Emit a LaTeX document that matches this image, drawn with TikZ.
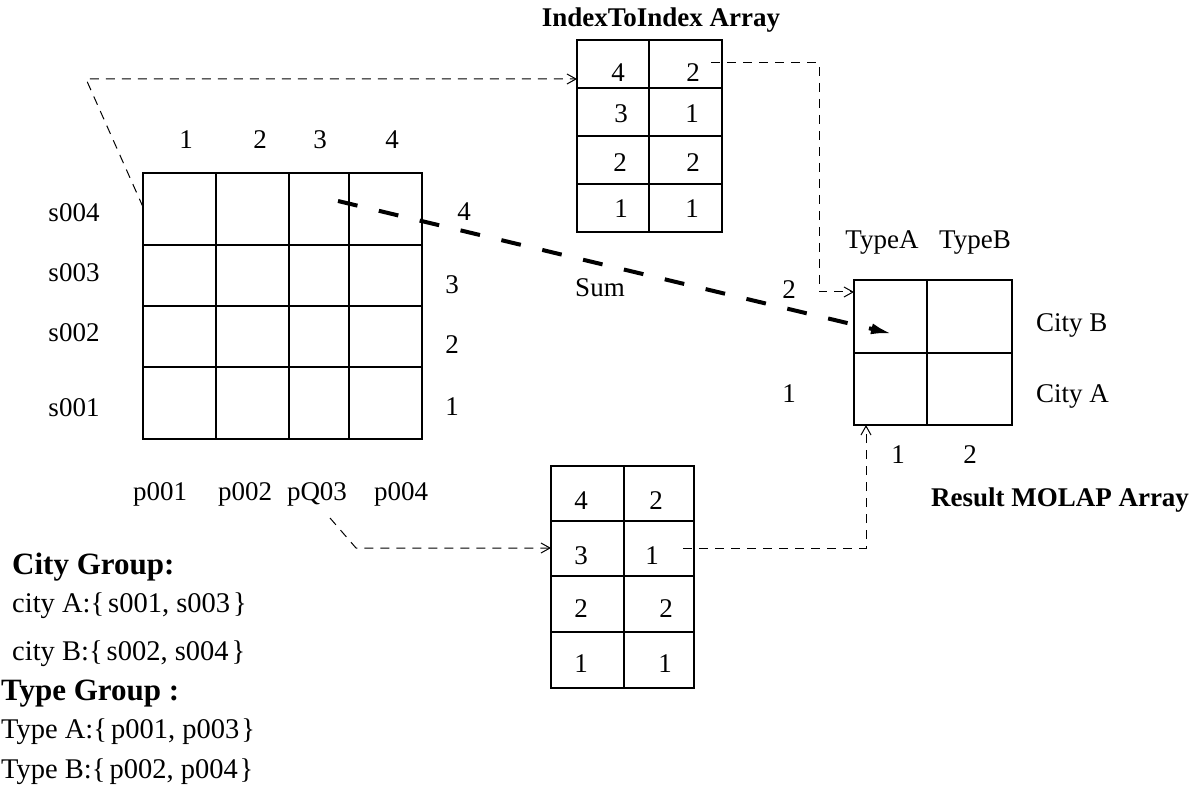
\documentclass[tikz,border=0pt]{standalone}
\usepackage{fontspec}
\setmainfont{Liberation Serif}
\usetikzlibrary{arrows.meta}
\begin{document}
\begin{tikzpicture}[x=1pt,y=-1pt,
  lbl/.style={inner sep=0pt, anchor=base, font=\fontsize{27}{30}\selectfont},
  blbl/.style={inner sep=0pt, anchor=base, font=\fontsize{27}{30}\selectfont\bfseries},
  leg/.style={inner sep=0pt, anchor=base west, font=\fontsize{28.5}{32}\selectfont},
  bleg/.style={inner sep=0pt, anchor=base west, font=\fontsize{31}{34}\selectfont\bfseries},
  arr/.style={draw, inner sep=0pt, outer sep=0pt, anchor=north west},
  thinline/.style={line width=1.3pt},
  thickborder/.style={line width=2.6pt},
  link/.style={line width=1pt, dash pattern=on 9pt off 7pt, -{Straight Barb[length=9pt,width=10pt]}},
  heavy/.style={line width=4pt, dash pattern=on 20pt off 22pt, -{Latex[length=22pt,width=11pt]}}]
\useasboundingbox (0,0) rectangle (1199,799);

% ---------------- main 4x4 array ----------------
\node[arr, thickborder, minimum width=279pt, minimum height=266pt] (grid) at (143,173) {};
\foreach \x in {216,289,349} \draw[thinline] (\x,173) -- (\x,439);
\foreach \y in {245,306,367} \draw[thinline] (143,\y) -- (422,\y);

\node[lbl] (c1) at (186,149) {1};
\node[lbl] (c2) at (260,149) {2};
\node[lbl] (c3) at (320,149) {3};
\node[lbl] (c4) at (392,149) {4};

\node[lbl] (s4) at (74,222) {s004};
\node[lbl] (s3) at (74,282) {s003};
\node[lbl] (s2) at (74,342) {s002};
\node[lbl] (s1) at (74,416) {s001};

\node[lbl] (r4) at (464,221) {4};
\node[lbl] (r3) at (452,294) {3};
\node[lbl] (r2) at (452,354) {2};
\node[lbl] (r1) at (452,415) {1};

\node[lbl] (p1) at (160,500) {p001};
\node[lbl] (p2) at (245,500) {p002};
\node[lbl] (p3) at (317,500) {pQ03};
\node[lbl] (p4) at (401,500) {p004};

% ---------------- IndexToIndex array (top) ----------------
\node[blbl] (title) at (661,27) {IndexToIndex Array};
\node[arr, thinline, minimum width=145pt, minimum height=192pt] (tarr) at (577,40) {};
\draw[thinline] (649,40) -- (649,232);
\foreach \y in {88,136,184} \draw[thinline] (577,\y) -- (722,\y);
\node[lbl] (ta1) at (618,82) {4};  \node[lbl] (tb1) at (693,82) {2};
\node[lbl] (ta2) at (621,123) {3}; \node[lbl] (tb2) at (692,123) {1};
\node[lbl] (ta3) at (620,172) {2}; \node[lbl] (tb3) at (693,172) {2};
\node[lbl] (ta4) at (621,218) {1}; \node[lbl] (tb4) at (692,218) {1};

% ---------------- second index array (bottom) ----------------
\node[arr, thinline, minimum width=143pt, minimum height=222pt] (barr) at (551,466) {};
\draw[thinline] (624,466) -- (624,688);
\foreach \y in {521,576,632} \draw[thinline] (551,\y) -- (694,\y);
\node[lbl] (ba1) at (581,509) {4}; \node[lbl] (bb1) at (656,509) {2};
\node[lbl] (ba2) at (581,564) {3}; \node[lbl] (bb2) at (652,564) {1};
\node[lbl] (ba3) at (581,617) {2}; \node[lbl] (bb3) at (666,617) {2};
\node[lbl] (ba4) at (581,672) {1}; \node[lbl] (bb4) at (665,672) {1};

% ---------------- result MOLAP array ----------------
\node[arr, thickborder, minimum width=158pt, minimum height=145pt] (res) at (854,280) {};
\draw[thinline] (927,280) -- (927,425);
\draw[thinline] (854,353) -- (1012,353);
\node[lbl] (ta) at (882,249) {TypeA};
\node[lbl] (tb) at (975,249) {TypeB};
\node[lbl, anchor=base west] (cb) at (1036,332) {City B};
\node[lbl, anchor=base west] (ca) at (1036,402) {City A};
\node[lbl] (x1) at (898,463) {1};
\node[lbl] (x2) at (970,463) {2};
\node[blbl] (rtitle) at (1060,506) {Result MOLAP Array};
\node[lbl] (y2) at (789,299) {2};
\node[lbl] (y1) at (789,402) {1};
\node[lbl] (sum) at (600,297) {Sum};

% ---------------- legend ----------------
\node[bleg] (cg) at (12,574) {City Group:};
\node[leg] (cga) at (12,612) {city A:\{\hspace{4pt}s001, s003\hspace{3pt}\}};
\node[leg] (cgb) at (12,660) {city B:\{\hspace{4pt}s002, s004\hspace{3pt}\}};
\node[bleg] (tg) at (1,700) {Type Group :};
\node[leg] (tga) at (1,738) {Type A:\{\hspace{4pt}p001, p003\hspace{2pt}\}};
\node[leg] (tgb) at (1,778) {Type B:\{\hspace{4pt}p002, p004\hspace{2pt}\}};

% ---------------- connectors ----------------
\coordinate (g4) at (143,207);
\coordinate (k0) at (86,79);
\draw[link] (g4) -- (k0) -- (k0 -| tarr.west);

\coordinate (t2s) at (711,63);
\coordinate (k1) at (819,63);
\coordinate (k2) at (819,292);
\draw[link] (t2s) -- (k1) -- (k2) -- (k2 -| res.west);

\coordinate (q0) at (330,518);
\coordinate (q1) at (356,548);
\draw[link] (q0) -- (q1) -- (q1 -| barr.west);

\coordinate (b1s) at (683,548);
\coordinate (k3) at (866,548);
\draw[link] (b1s) -- (k3) -- (k3 |- res.south);

\coordinate (hs) at (338,201);
\coordinate (he) at (893,334);
\draw[heavy] (hs) -- (he);
\end{tikzpicture}
\end{document}
